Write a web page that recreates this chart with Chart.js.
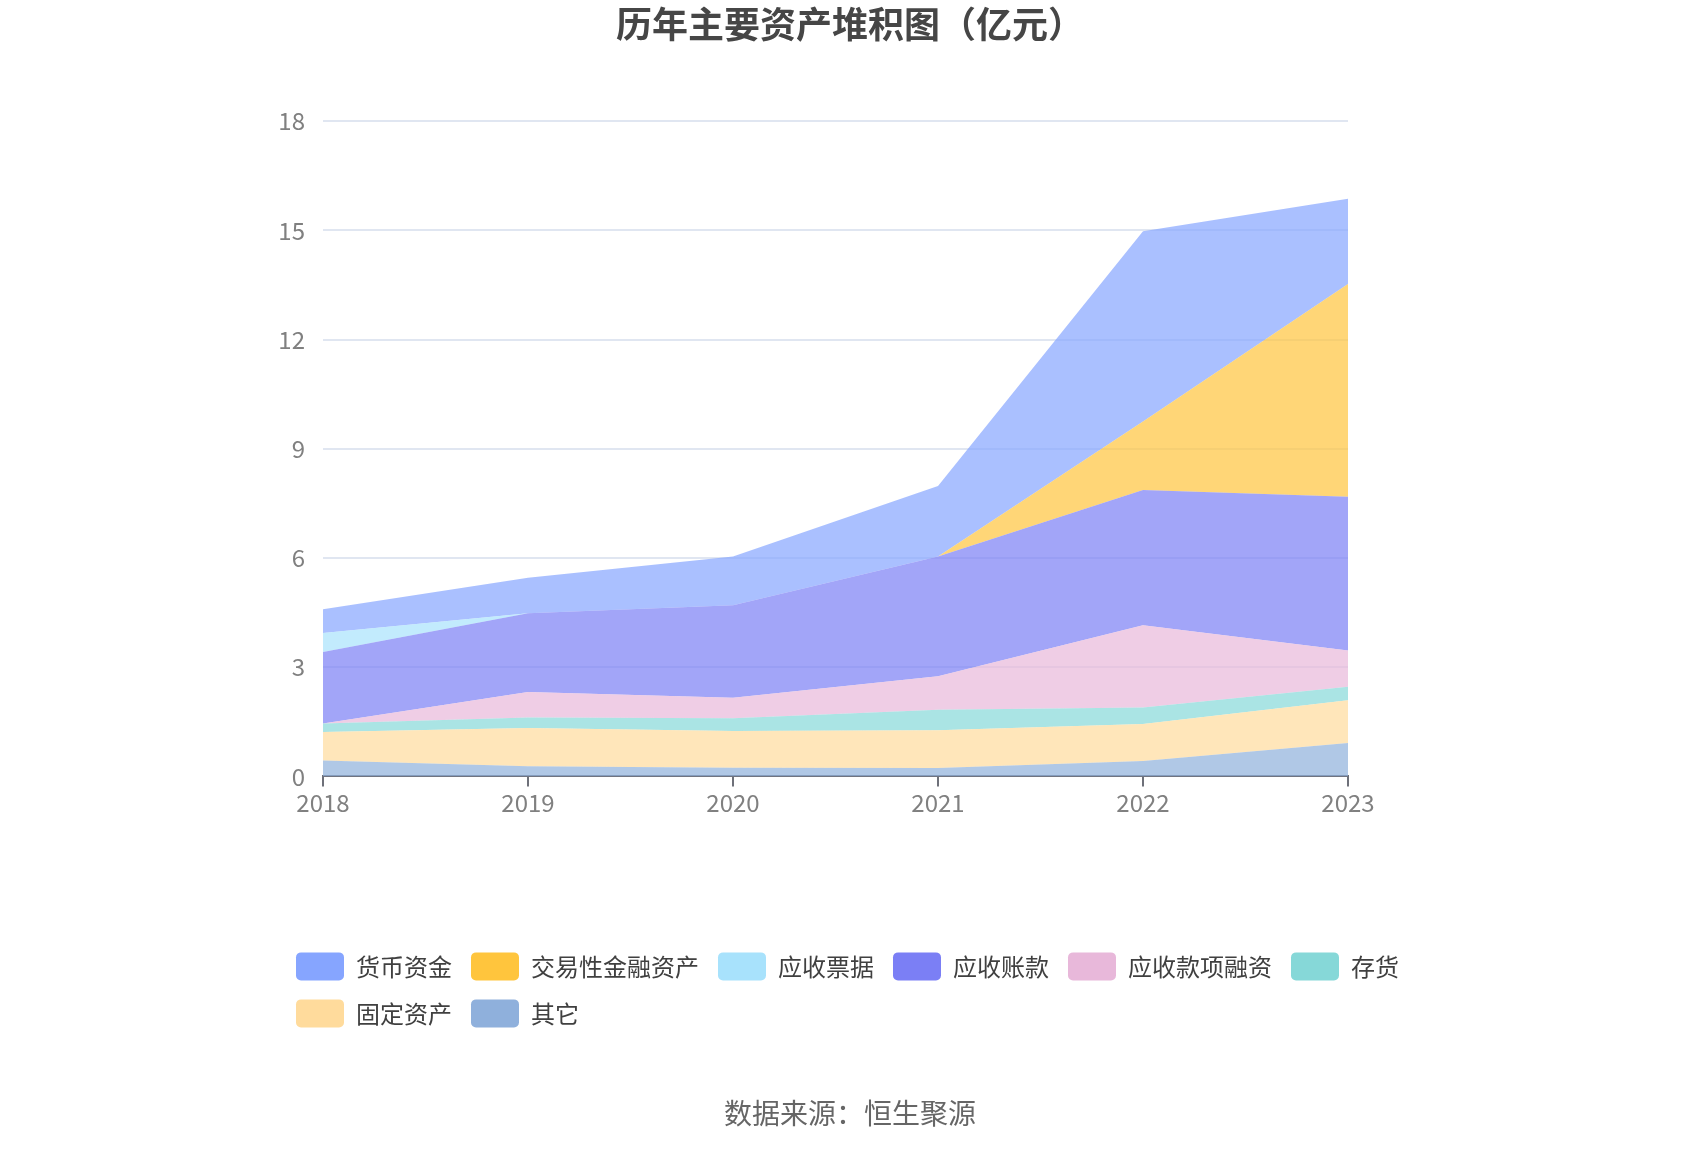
<!DOCTYPE html>
<html>
<head>
<meta charset="utf-8">
<script src="https://cdn.jsdelivr.net/npm/chart.js@4/dist/chart.umd.min.js"></script>
<style>
  html, body { margin: 0; padding: 0; background: #ffffff; }
  #wrap { width: 1700px; height: 1150px; }
</style>
</head>
<body>
<div id="wrap"><canvas id="c" width="1700" height="1150"></canvas></div>
<script>
// ---- data (亿元), stacked from bottom to top ----
const years = ['2018', '2019', '2020', '2021', '2022', '2023'];
const qita        = [0.44, 0.28, 0.24, 0.23, 0.42, 0.92]; // 其它
const gudingzichan = [0.78, 1.05, 1.01, 1.04, 1.02, 1.17]; // 固定资产
const cunhuo      = [0.23, 0.29, 0.35, 0.56, 0.45, 0.37]; // 存货
const kuanxiangrongzi = [0.00, 0.70, 0.56, 0.92, 2.26, 1.00]; // 应收款项融资
const yingshouzhangkuan = [1.97, 2.16, 2.54, 3.29, 3.72, 4.22]; // 应收账款
const yingshoupiaoju = [0.52, 0.00, 0.00, 0.00, 0.00, 0.00]; // 应收票据
const jiaoyixing  = [0.00, 0.00, 0.00, 0.00, 1.88, 5.85]; // 交易性金融资产
const huobizijin  = [0.65, 0.98, 1.34, 1.94, 5.23, 2.34]; // 货币资金
const yTicks = [0, 3, 6, 9, 12, 15, 18];

const seriesNames = ['其它', '固定资产', '存货', '应收款项融资', '应收账款', '应收票据', '交易性金融资产', '货币资金'];
const seriesData = [qita, gudingzichan, cunhuo, kuanxiangrongzi, yingshouzhangkuan, yingshoupiaoju, jiaoyixing, huobizijin];
const solidColors = ['#8fb0dc', '#ffdb9c', '#86d8d8', '#e8b8da', '#7b7ff5', '#a8e2fc', '#ffc53d', '#86a5ff'];

function hexToRgba(hex, a) {
  const n = parseInt(hex.slice(1), 16);
  return 'rgba(' + ((n >> 16) & 255) + ',' + ((n >> 8) & 255) + ',' + (n & 255) + ',' + a + ')';
}

Chart.defaults.font.family = "'Noto Sans CJK SC', 'Noto Sans', sans-serif";

const datasets = seriesNames.map((name, i) => ({
  label: name,
  data: seriesData[i],
  backgroundColor: hexToRgba(solidColors[i], 0.7),
  borderColor: 'rgba(0,0,0,0)',
  borderWidth: 0,
  pointRadius: 0,
  pointHoverRadius: 0,
  tension: 0,
  fill: i === 0 ? 'origin' : '-1',
  yAxisID: 'y'
}));

new Chart(document.getElementById('c'), {
  type: 'line',
  data: { labels: years, datasets: datasets },
  options: {
    responsive: false,
    animation: false,
    devicePixelRatio: 1,
    layout: { padding: { left: 277, right: 277, top: 0, bottom: 0 } },
    plugins: {
      title: {
        display: true,
        text: '历年主要资产堆积图（亿元）',
        color: '#464646',
        font: { size: 36, weight: 'bold' },
        padding: { top: 3, bottom: 75 }
      },
      subtitle: {
        display: true,
        position: 'bottom',
        text: '数据来源：恒生聚源',
        color: '#666666',
        font: { size: 28, weight: 'normal' },
        padding: { top: 59, bottom: 20 }
      },
      legend: {
        display: true,
        position: 'bottom',
        align: 'start',
        labels: {
          boxWidth: 48,
          boxHeight: 28,
          padding: 19,
          color: '#404040',
          font: { size: 24 },
          useBorderRadius: true,
          borderRadius: 5,
          sort: (a, b) => b.datasetIndex - a.datasetIndex,
          generateLabels: (chart) => {
            const items = Chart.defaults.plugins.legend.labels.generateLabels(chart);
            items.forEach(it => {
              it.fillStyle = solidColors[it.datasetIndex];
              it.strokeStyle = 'rgba(0,0,0,0)';
              it.lineWidth = 0;
            });
            return items;
          }
        }
      },
      tooltip: { enabled: false }
    },
    scales: {
      x: {
        type: 'category',
        offset: false,
        grid: {
          display: true,
          drawOnChartArea: false,
          drawTicks: true,
          tickLength: 10,
          color: '#6E7079',
          lineWidth: 2
        },
        border: { display: true, color: '#6E7079', width: 2 },
        ticks: { color: '#808080', font: { size: 24 }, padding: 2, maxRotation: 0 },
        afterFit: (s) => { s.height = 157; }
      },
      y: {
        type: 'linear',
        position: 'left',
        stacked: true,
        min: 0,
        max: 18,
        afterBuildTicks: (s) => { s.ticks = yTicks.map(v => ({ value: v })); },
        grid: { color: '#E0E6F1', lineWidth: 2, drawTicks: false },
        border: { display: false },
        ticks: { color: '#808080', font: { size: 24 }, padding: 18 },
        afterFit: (s) => { s.width = 46; }
      },
      yR: {
        type: 'linear',
        position: 'right',
        display: true,
        grid: { display: false },
        border: { display: false },
        ticks: { display: false },
        afterFit: (s) => { s.width = 75; }
      }
    }
  }
});
</script>
</body>
</html>
